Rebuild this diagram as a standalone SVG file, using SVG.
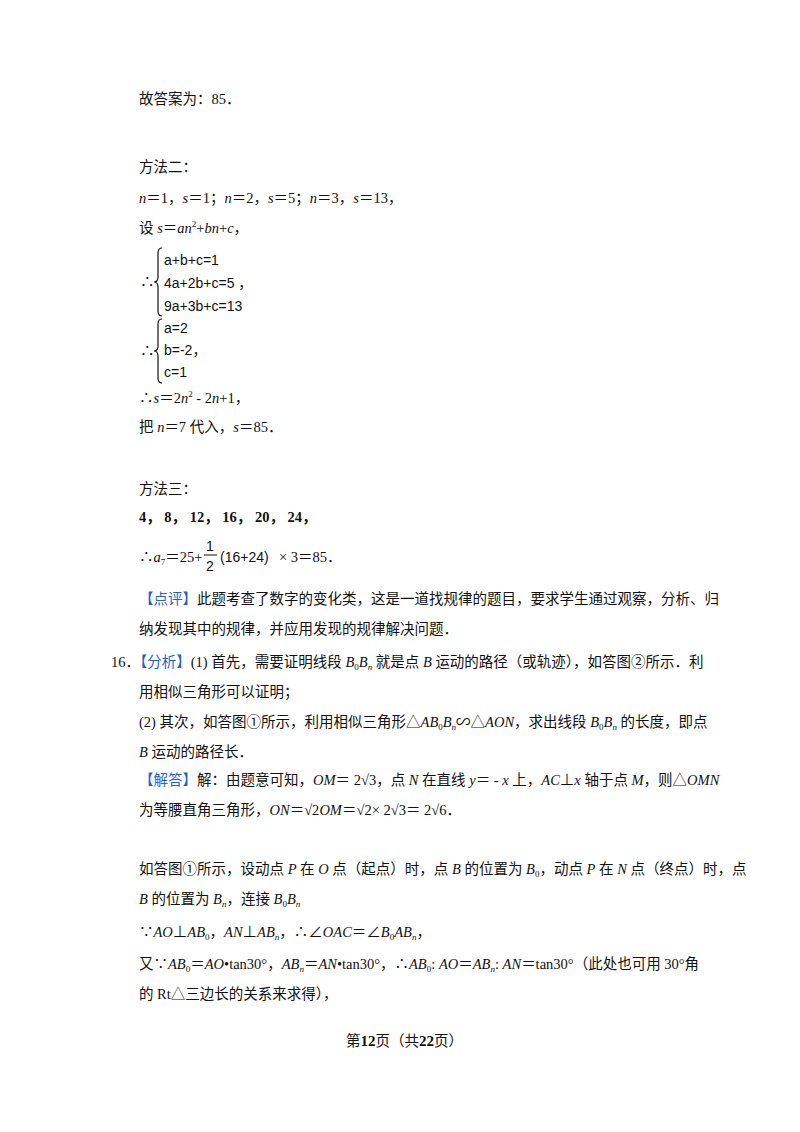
<svg xmlns="http://www.w3.org/2000/svg" width="800" height="1132" viewBox="0 0 800 1132">
<style>
text{font-family:"Liberation Serif","Noto Sans CJK SC",serif;font-size:14.5px;fill:#111}
.s{font-family:"Liberation Sans","Noto Sans CJK SC",sans-serif;font-size:14px}
.i{font-style:italic}
.b{fill:#1f5fd0}
.br{fill:none;stroke:#111;stroke-width:1.2}
.ov{stroke:#111;stroke-width:1}
</style>
<rect width="800" height="1132" fill="#fff"/>
<text x="139" y="104">故答案为：85．</text>
<text x="139" y="172">方法二：</text>
<text x="139" y="203"><tspan class="i">n</tspan>＝1，<tspan class="i">s</tspan>＝1；<tspan class="i">n</tspan>＝2，<tspan class="i">s</tspan>＝5；<tspan class="i">n</tspan>＝3，<tspan class="i">s</tspan>＝13，</text>
<text x="139" y="233">设 <tspan class="i">s</tspan>＝<tspan class="i">an</tspan><tspan font-size="9" dy="-6">2</tspan><tspan dy="6">+</tspan><tspan class="i">bn</tspan>+<tspan class="i">c</tspan>，</text>
<text x="140" y="287">∴</text>
<path class="br" d="M162,248 q-4,0 -4,5 v24 q0,5 -4,5 q4,0 4,5 v24 q0,5 4,5"/>
<text class="s" x="164" y="265">a+b+c=1</text>
<text class="s" x="164" y="288">4a+2b+c=5  ，</text>
<text class="s" x="164" y="311">9a+3b+c=13</text>
<text x="140" y="356">∴</text>
<path class="br" d="M162,319 q-4,0 -4,5 v22 q0,5 -4,5 q4,0 4,5 v22 q0,5 4,5"/>
<text class="s" x="164" y="333">a=2</text>
<text class="s" x="164" y="355">b=-2，</text>
<text class="s" x="164" y="377">c=1</text>
<text x="139" y="403">∴<tspan class="i">s</tspan>＝2<tspan class="i">n</tspan><tspan font-size="9" dy="-6">2</tspan><tspan dy="6"> - 2</tspan><tspan class="i">n</tspan>+1，</text>
<text x="139" y="432">把 <tspan class="i">n</tspan>＝7 代入，<tspan class="i">s</tspan>＝85．</text>
<text x="139" y="494">方法三：</text>
<text x="139" y="522" font-family="Liberation Sans,sans-serif" font-size="13.5" font-weight="bold">4， 8， 12， 16， 20， 24，</text>
<text x="139" y="562">∴<tspan class="i">a</tspan><tspan font-size="9" dy="3">7</tspan><tspan dy="-3">＝25+</tspan></text>
<text x="206" y="551" class="s" font-size="15">1</text>
<line class="ov" x1="204" y1="555" x2="217" y2="555"/>
<text x="206" y="571" class="s" font-size="15">2</text>
<text x="220" y="562" class="s" font-size="15">(16+24)</text>
<text x="279" y="562">× 3＝85．</text>
<text x="139" y="604"><tspan class="b">【点评】</tspan>此题考查了数字的变化类，这是一道找规律的题目，要求学生通过观察，分析、归</text>
<text x="139" y="634">纳发现其中的规律，并应用发现的规律解决问题．</text>
<text x="111" y="667">16．<tspan class="b">【分析】</tspan>(1) 首先，需要证明线段 <tspan class="i">B</tspan><tspan font-size="9" dy="3">0</tspan><tspan class="i" dy="-3">B</tspan><tspan class="i" font-size="9" dy="3">n</tspan><tspan dy="-3"> 就是点 </tspan><tspan class="i">B</tspan> 运动的路径（或轨迹），如答图②所示．利</text>
<text x="139" y="697">用相似三角形可以证明；</text>
<text x="139" y="727">(2) 其次，如答图①所示，利用相似三角形△<tspan class="i">AB</tspan><tspan font-size="9" dy="3">0</tspan><tspan class="i" dy="-3">B</tspan><tspan class="i" font-size="9" dy="3">n</tspan><tspan dy="-3">∽△</tspan><tspan class="i">AON</tspan>，求出线段 <tspan class="i">B</tspan><tspan font-size="9" dy="3">0</tspan><tspan class="i" dy="-3">B</tspan><tspan class="i" font-size="9" dy="3">n</tspan><tspan dy="-3"> 的长度，即点</tspan></text>
<text x="139" y="757"><tspan class="i">B</tspan> 运动的路径长．</text>
<text x="139" y="785"><tspan class="b">【解答】</tspan>解：由题意可知，<tspan class="i">OM</tspan>＝ 2√3，点 <tspan class="i">N</tspan> 在直线 <tspan class="i">y</tspan>＝ - <tspan class="i">x</tspan> 上，<tspan class="i">AC</tspan>⊥<tspan class="i">x</tspan> 轴于点 <tspan class="i">M</tspan>，则△<tspan class="i">OMN</tspan></text>
<text x="139" y="815">为等腰直角三角形，<tspan class="i">ON</tspan>＝√2<tspan class="i">OM</tspan>＝√2× 2√3＝ 2√6．</text>
<text x="139" y="874">如答图①所示，设动点 <tspan class="i">P</tspan> 在 <tspan class="i">O</tspan> 点（起点）时，点 <tspan class="i">B</tspan> 的位置为 <tspan class="i">B</tspan><tspan font-size="9" dy="3">0</tspan><tspan dy="-3">，动点 </tspan><tspan class="i">P</tspan> 在 <tspan class="i">N</tspan> 点（终点）时，点</text>
<text x="139" y="904"><tspan class="i">B</tspan> 的位置为 <tspan class="i">B</tspan><tspan class="i" font-size="9" dy="3">n</tspan><tspan dy="-3">，连接 </tspan><tspan class="i">B</tspan><tspan font-size="9" dy="3">0</tspan><tspan class="i" dy="-3">B</tspan><tspan class="i" font-size="9" dy="3">n</tspan></text>
<text x="139" y="937">∵<tspan class="i">AO</tspan>⊥<tspan class="i">AB</tspan><tspan font-size="9" dy="3">0</tspan><tspan dy="-3">，</tspan><tspan class="i">AN</tspan>⊥<tspan class="i">AB</tspan><tspan class="i" font-size="9" dy="3">n</tspan><tspan dy="-3">，∴∠</tspan><tspan class="i">OAC</tspan>＝∠<tspan class="i">B</tspan><tspan font-size="9" dy="3">0</tspan><tspan class="i" dy="-3">AB</tspan><tspan class="i" font-size="9" dy="3">n</tspan><tspan dy="-3">，</tspan></text>
<text x="139" y="969">又∵<tspan class="i">AB</tspan><tspan font-size="9" dy="3">0</tspan><tspan dy="-3">＝</tspan><tspan class="i">AO</tspan>•tan30°，<tspan class="i">AB</tspan><tspan class="i" font-size="9" dy="3">n</tspan><tspan dy="-3">＝</tspan><tspan class="i">AN</tspan>•tan30°，∴<tspan class="i">AB</tspan><tspan font-size="9" dy="3">0</tspan><tspan dy="-3">: </tspan><tspan class="i">AO</tspan>＝<tspan class="i">AB</tspan><tspan class="i" font-size="9" dy="3">n</tspan><tspan dy="-3">: </tspan><tspan class="i">AN</tspan>＝tan30°（此处也可用 30°角</text>
<text x="139" y="999">的 Rt△三边长的关系来求得），</text>
<text x="346" y="1046" font-size="13">第<tspan font-weight="bold" font-size="15">12</tspan>页（共<tspan font-weight="bold" font-size="15">22</tspan>页）</text>
</svg>
